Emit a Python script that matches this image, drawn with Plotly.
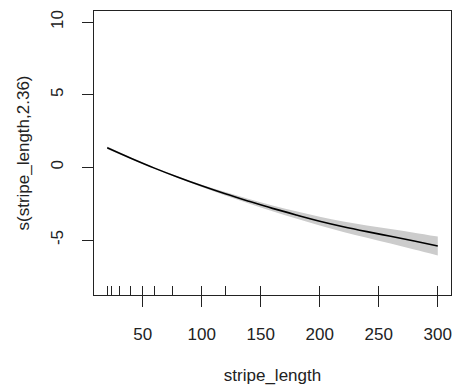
import plotly.graph_objects as go

# data
stripe_length = [20, 40, 60, 80, 100, 120, 140, 160, 180, 200, 220, 240, 260, 280, 300]
fit = [1.35, 0.63, -0.05, -0.68, -1.27, -1.82, -2.33, -2.82, -3.27, -3.70, -4.08, -4.42, -4.74, -5.07, -5.41]
se_half = [0.08, 0.05, 0.04, 0.05, 0.08, 0.12, 0.16, 0.20, 0.25, 0.30, 0.36, 0.42, 0.50, 0.58, 0.65]
rug_values = [20, 24, 30, 40, 50, 60, 75, 100, 120, 150, 200, 250, 300]
x_ticks = [50, 100, 150, 200, 250, 300]
y_ticks = [-5, 0, 5, 10]
y_tick_labels = ["-5", "0", "5", "10"]

upper = [f + s for f, s in zip(fit, se_half)]
lower = [f - s for f, s in zip(fit, se_half)]

FONT = "Liberation Sans, Arial, sans-serif"

fig = go.Figure()
fig.add_trace(go.Scatter(x=stripe_length, y=upper, mode="lines", line=dict(width=0, shape="spline"),
                         showlegend=False, hoverinfo="skip"))
fig.add_trace(go.Scatter(x=stripe_length, y=lower, mode="lines", line=dict(width=0, shape="spline"),
                         fill="tonexty", fillcolor="#cccccc", showlegend=False, hoverinfo="skip"))
fig.add_trace(go.Scatter(x=stripe_length, y=fit, mode="lines", line=dict(color="black", width=1.6, shape="spline"),
                         showlegend=False))
# invisible trace to activate the rug axis
fig.add_trace(go.Scatter(x=[rug_values[0]], y=[fit[0]], xaxis="x2", mode="markers",
                         marker=dict(opacity=0), showlegend=False, hoverinfo="skip"))

xr = [8.8, 311.2]
fig.update_layout(
    width=454, height=385,
    margin=dict(l=94, r=3, t=11, b=90),
    paper_bgcolor="white", plot_bgcolor="white",
    font=dict(family=FONT, size=17, color="#222222"),
    xaxis=dict(range=xr, tickvals=x_ticks, ticks="outside", ticklen=11, tickwidth=1.2,
               tickcolor="#222222", showline=True, linecolor="#222222", linewidth=1.2, mirror=True,
               showgrid=False, zeroline=False, ticklabelstandoff=12,
               title=dict(text="stripe_length", standoff=28, font=dict(size=17))),
    xaxis2=dict(range=xr, overlaying="x", anchor="y", side="bottom", tickvals=rug_values,
                ticks="inside", ticklen=9, tickwidth=1.3, tickcolor="#222222",
                showticklabels=False, showgrid=False, zeroline=False, showline=False),
    yaxis=dict(range=[-8.78, 10.76], tickvals=y_ticks, ticktext=y_tick_labels,
               ticks="outside", ticklen=11, tickwidth=1.2,
               tickcolor="#222222", showline=True, linecolor="#222222", linewidth=1.2, mirror=True,
               showgrid=False, zeroline=False, tickangle=-90, ticklabelstandoff=12,
               title=dict(text="s(stripe_length,2.36)", standoff=14, font=dict(size=17))),
)

fig.write_html("out.html", config={"displayModeBar": False},
               post_script="document.body.style.margin='0';document.body.style.overflow='hidden';")
